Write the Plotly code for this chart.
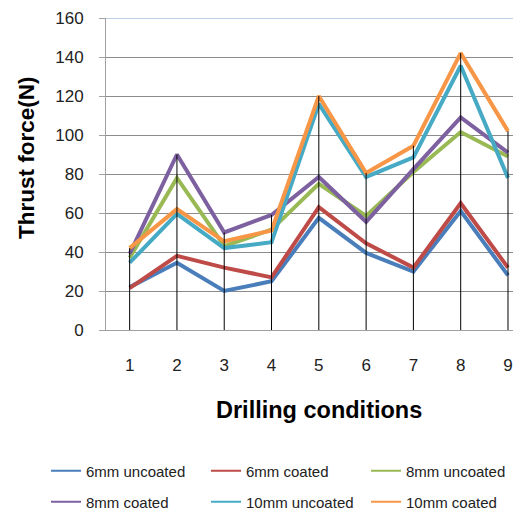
import plotly.graph_objects as go

conditions = [1, 2, 3, 4, 5, 6, 7, 8, 9]
tick_labels = ["1", "2", "3", "4", "5", "6", "7", "8", "9"]

mm6_uncoated = [22, 34.5, 20, 25, 57.5, 39.5, 30, 61, 28]
mm6_coated = [21.5, 38, 32, 27, 63, 44.5, 32, 65, 32]
mm8_uncoated = [37, 78, 43, 51.5, 75, 58.5, 81, 101.5, 89]
mm8_coated = [39, 90, 50, 59, 78.5, 55.5, 82.5, 109, 91]
mm10_uncoated = [34.5, 59.5, 42, 45, 116, 78.5, 88.5, 135.5, 78]
mm10_coated = [42, 62, 45.5, 51, 120, 80.5, 94.5, 142, 102]

series_names = ["6mm uncoated", "6mm coated", "8mm uncoated",
                "8mm coated", "10mm uncoated", "10mm coated"]
series_values = [mm6_uncoated, mm6_coated, mm8_uncoated,
                 mm8_coated, mm10_uncoated, mm10_coated]
colors = ["#4A7EBB", "#BE4B48", "#98B954", "#7D60A0", "#46AAC5", "#F79646"]

FONT = "Liberation Sans, Arial, sans-serif"

fig = go.Figure()
for i, (name, vals, col) in enumerate(zip(series_names, series_values, colors)):
    fig.add_trace(go.Scatter(
        x=conditions, y=vals, mode="lines", name=name,
        line=dict(color=col, width=4), legendgroup=name, showlegend=False,
    ))

# drop lines from the highest value down to the axis
drop_x, drop_y = [], []
for j, c in enumerate(conditions):
    top = max(s[j] for s in series_values)
    drop_x += [c, c, None]
    drop_y += [0, top, None]
fig.add_trace(go.Scatter(x=drop_x, y=drop_y, mode="lines",
                         line=dict(color="black", width=1),
                         showlegend=False, hoverinfo="skip"))

# legend entries (thin line samples)
for i, (name, col) in enumerate(zip(series_names, colors)):
    fig.add_trace(go.Scatter(
        x=[None], y=[None], mode="lines", name=name, legendgroup=name,
        line=dict(color=col, width=2),
        legend="legend" if i < 3 else "legend2",
    ))

W, H = 513, 511
PL, PT, PB = 106, 18, 330          # plot left / top / bottom in px
L, T, B, R = PL, PT, H - PB, 0
pw, ph = W - L - R, H - T - B

def px_x(p):
    return (p - PL) / pw

def px_y(p):
    return (PB - p) / ph

fig.update_layout(
    width=W, height=H,
    margin=dict(l=L, r=R, t=T, b=B, pad=0, autoexpand=False),
    paper_bgcolor="white", plot_bgcolor="white",
    font=dict(family=FONT, color="#222222"),
    xaxis=dict(range=[0.5, 9.106], tickvals=conditions, ticktext=tick_labels,
               showgrid=False, zeroline=False, showline=True,
               linecolor="#A0A0A0", linewidth=1, ticks="",
               ticklabelstandoff=20,
               tickfont=dict(size=17, family=FONT, color="#222222")),
    yaxis=dict(range=[0, 160], tickvals=[0, 20, 40, 60, 80, 100, 120, 140, 160],
               showgrid=True, gridcolor="#8C8C8C", gridwidth=1,
               zeroline=False, showline=True, linecolor="#A0A0A0", linewidth=1,
               ticks="outside", ticklen=6, tickcolor="#A0A0A0",
               ticklabelstandoff=12,
               tickfont=dict(size=17, family=FONT, color="#222222")),
    legend=dict(orientation="h", x=px_x(46), xanchor="left",
                y=px_y(471), yanchor="middle", entrywidth=115,
                font=dict(size=15, family=FONT, color="#222222"),
                bgcolor="rgba(0,0,0,0)"),
    legend2=dict(orientation="h", x=px_x(46), xanchor="left",
                 y=px_y(502), yanchor="middle", entrywidth=115,
                 font=dict(size=15, family=FONT, color="#222222"),
                 bgcolor="rgba(0,0,0,0)"),
    showlegend=True,
)

# top boundary line (blue)
fig.add_shape(type="line", xref="paper", yref="y", x0=0, x1=1, y0=160, y1=160,
              line=dict(color="#7F9FD5", width=1), layer="above")

fig.add_annotation(text="<b>Drilling conditions</b>", xref="paper", yref="paper",
                   x=px_x(319), y=px_y(410), showarrow=False,
                   xanchor="center", yanchor="middle",
                   font=dict(size=23.5, family=FONT, color="black"))
fig.add_annotation(text="<b>Thrust force(N)</b>", xref="paper", yref="paper",
                   x=px_x(26), y=px_y(158), showarrow=False, textangle=-90,
                   xanchor="center", yanchor="middle",
                   font=dict(size=22.5, family=FONT, color="black"))

page_fix = ("document.documentElement.style.overflow='hidden';"
            "document.body.style.margin='0';"
            "document.body.style.overflow='hidden';")
fig.write_html("out.html", post_script=page_fix,
               config={"displayModeBar": False})
